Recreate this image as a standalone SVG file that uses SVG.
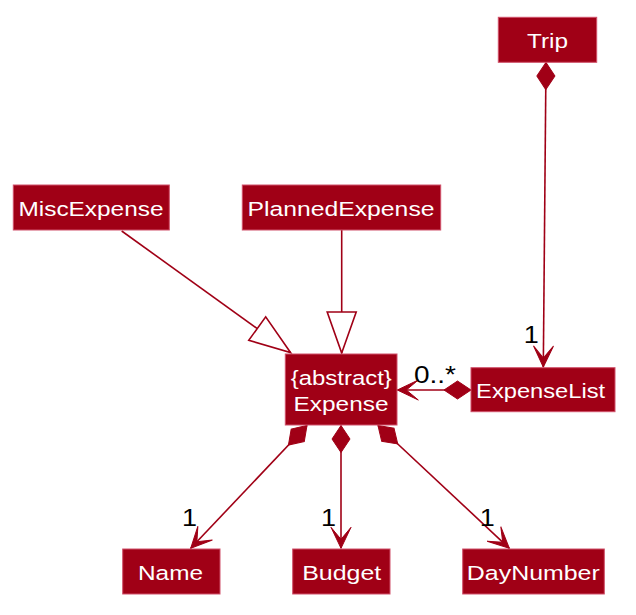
<svg xmlns="http://www.w3.org/2000/svg" width="636" height="615" viewBox="0 0 636 615">
<style>
.box{fill:#A00016;stroke:#D0506A;stroke-width:1}
.cls{font-family:"Liberation Sans",Arial,sans-serif;font-size:20.5px;fill:#FFFFFF;text-anchor:middle}
.lbl{font-family:"Liberation Sans",Arial,sans-serif;font-size:23px;fill:#000000}
.edge{fill:none;stroke:#A00016;stroke-width:1.6}
</style>
<defs>
<marker id="arrow" markerUnits="userSpaceOnUse" orient="auto" overflow="visible" markerWidth="1" markerHeight="1" refX="0" refY="0">
<path d="M0,0 L-21,-10 L-9,0 L-21,10 Z" fill="#A00016" stroke="#A00016" stroke-width="1"/>
</marker>
<marker id="diamond" markerUnits="userSpaceOnUse" orient="auto" overflow="visible" markerWidth="1" markerHeight="1" refX="0" refY="0">
<path d="M0,0 L13.5,-9 L27,0 L13.5,9 Z" fill="#A00016" stroke="#A00016" stroke-width="1"/>
</marker>
<marker id="tri" markerUnits="userSpaceOnUse" orient="auto" overflow="visible" markerWidth="1" markerHeight="1" refX="0" refY="0">
<path d="M0,0 L-41,-14.5 L-41,14.5 Z" fill="#FFFFFF" stroke="#A00016" stroke-width="1.6"/>
</marker>
</defs>
<rect width="636" height="615" fill="#FFFFFF"/>
<g id="connectors">
<path class="edge" d="M121.7,231 L290.5,352.5" marker-end="url(#tri)"/>
<path class="edge" d="M341.7,230 L341.7,353" marker-end="url(#tri)"/>
<path class="edge" d="M546,62.5 L543.3,367" marker-start="url(#diamond)" marker-end="url(#arrow)"/>
<path class="edge" d="M471,390 L397.3,390" marker-start="url(#diamond)" marker-end="url(#arrow)"/>
<path class="edge" d="M307,425.5 L190.7,548.3" marker-start="url(#diamond)" marker-end="url(#arrow)"/>
<path class="edge" d="M341,425.5 L341,548.3" marker-start="url(#diamond)" marker-end="url(#arrow)"/>
<path class="edge" d="M378,425.5 L509.3,548.3" marker-start="url(#diamond)" marker-end="url(#arrow)"/>
<text class="lbl" x="523.7" y="343.3" textLength="15" lengthAdjust="spacingAndGlyphs">1</text>
<text class="lbl" x="414" y="382.7" textLength="42" lengthAdjust="spacingAndGlyphs">0..*</text>
<text class="lbl" x="182" y="526" textLength="15" lengthAdjust="spacingAndGlyphs">1</text>
<text class="lbl" x="321" y="526" textLength="15" lengthAdjust="spacingAndGlyphs">1</text>
<text class="lbl" x="479.7" y="525.7" textLength="15" lengthAdjust="spacingAndGlyphs">1</text>
</g>
<g id="Trip">
<rect class="box" x="498.3" y="17.3" width="98.4" height="45"/>
<text class="cls" x="547.5" y="48.3" textLength="41" lengthAdjust="spacingAndGlyphs">Trip</text>
</g>
<g id="MiscExpense">
<rect class="box" x="13.3" y="185" width="156" height="45"/>
<text class="cls" x="91" y="215.7" textLength="145" lengthAdjust="spacingAndGlyphs">MiscExpense</text>
</g>
<g id="PlannedExpense">
<rect class="box" x="242.3" y="185" width="198.4" height="45"/>
<text class="cls" x="341" y="215.7" textLength="187" lengthAdjust="spacingAndGlyphs">PlannedExpense</text>
</g>
<g id="Expense">
<rect class="box" x="285.3" y="354" width="111.7" height="71"/>
<text class="cls" x="341.3" y="384.5" textLength="101" lengthAdjust="spacingAndGlyphs">{abstract}</text>
<text class="cls" x="341" y="411" textLength="95" lengthAdjust="spacingAndGlyphs">Expense</text>
</g>
<g id="ExpenseList">
<rect class="box" x="471" y="367.7" width="144" height="44"/>
<text class="cls" x="540.6" y="397.7" textLength="129" lengthAdjust="spacingAndGlyphs">ExpenseList</text>
</g>
<g id="Name">
<rect class="box" x="122.7" y="549" width="97.3" height="45"/>
<text class="cls" x="170.5" y="579.5" textLength="65" lengthAdjust="spacingAndGlyphs">Name</text>
</g>
<g id="Budget">
<rect class="box" x="292.7" y="549" width="97.3" height="45"/>
<text class="cls" x="341.7" y="579.5" textLength="79" lengthAdjust="spacingAndGlyphs">Budget</text>
</g>
<g id="DayNumber">
<rect class="box" x="462.7" y="549" width="141.6" height="45"/>
<text class="cls" x="533.3" y="579.5" textLength="133" lengthAdjust="spacingAndGlyphs">DayNumber</text>
</g>
</svg>
